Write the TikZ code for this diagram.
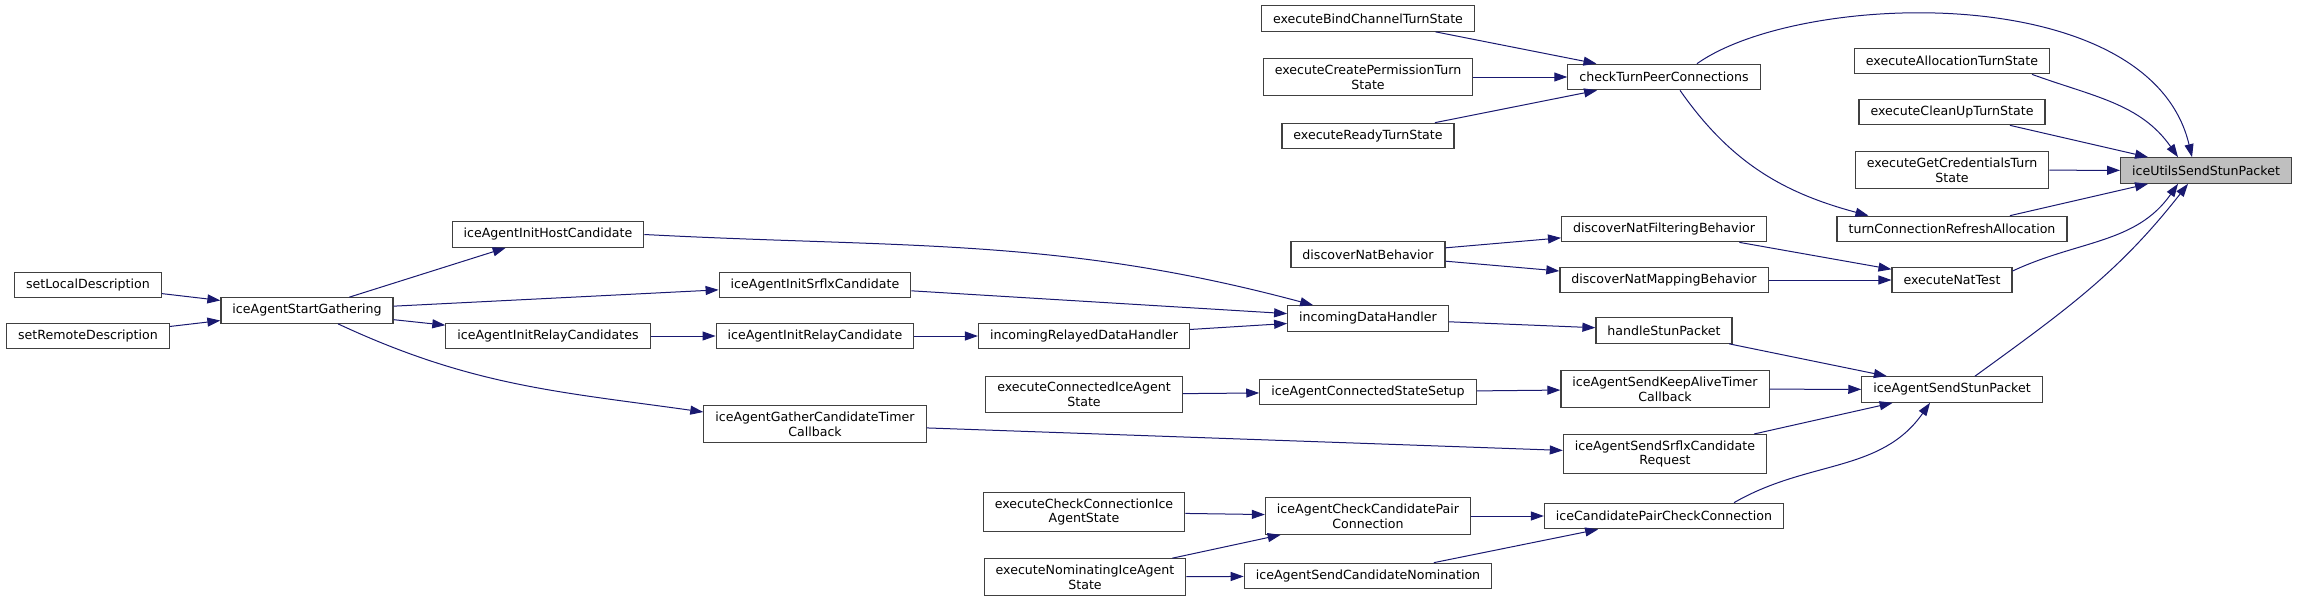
\documentclass[tikz,border=0pt]{standalone}
\usepackage{fontspec}
\setmainfont{DejaVu Sans}
\usepackage{tikz}
\usetikzlibrary{arrows.meta, positioning}
\definecolor{edgeblue}{HTML}{191970}
\definecolor{boxline}{HTML}{404040}
\definecolor{mainfill}{HTML}{BFBFBF}
\tikzstyle{fn} = [draw=boxline, line width=1.2pt, fill=white, inner xsep=11.5pt, inner ysep=6pt, minimum height=25.5pt, align=center]
\tikzstyle{call} = [edgeblue, line width=1pt, -{Triangle[length=13pt, width=9pt]}]

\begin{document}
\begin{tikzpicture}[x=1pt, y=1pt, font=\fontsize{12.6}{14.7}\selectfont]
    \useasboundingbox (0,0) rectangle (2299,-603);
    % functions, column by column
    \foreach \nm/\x/\y/\lbl in {
        setLocal/88/-285/setLocalDescription,
        setRemote/88/-336/setRemoteDescription,
        startGather/307/-310.5/iceAgentStartGathering,
        initHost/548/-234.5/iceAgentInitHostCandidate,
        initRelays/548/-336/iceAgentInitRelayCandidates,
        initSrflx/815/-285/iceAgentInitSrflxCandidate,
        initRelay/815/-336/iceAgentInitRelayCandidate,
        gatherTimer/815/-424/{iceAgentGatherCandidateTimer\\Callback},
        relayedHandler/1084/-336/incomingRelayedDataHandler,
        connectedState/1084/-394.5/{executeConnectedIceAgent\\State},
        checkConnState/1084/-512/{executeCheckConnectionIce\\AgentState},
        nominatingState/1085/-577/{executeNominatingIceAgent\\State},
        bindChannel/1368/-18.5/executeBindChannelTurnState,
        createPerm/1368/-77/{executeCreatePermissionTurn\\State},
        readyTurn/1368/-136/executeReadyTurnState,
        natBehavior/1368/-254.5/discoverNatBehavior,
        dataHandler/1368/-318.5/incomingDataHandler,
        connectedSetup/1368/-392/iceAgentConnectedStateSetup,
        checkPair/1368/-516/{iceAgentCheckCandidatePair\\Connection},
        sendNomination/1368/-576/iceAgentSendCandidateNomination,
        checkTurnPeer/1664/-77/checkTurnPeerConnections,
        natFiltering/1664/-229/discoverNatFilteringBehavior,
        natMapping/1664/-280/discoverNatMappingBehavior,
        handleStun/1664/-330.5/handleStunPacket,
        keepAlive/1665/-389/{iceAgentSendKeepAliveTimer\\Callback},
        srflxRequest/1665/-454/{iceAgentSendSrflxCandidate\\Request},
        pairCheck/1664/-516/iceCandidatePairCheckConnection,
        allocation/1952/-61/executeAllocationTurnState,
        cleanUp/1952/-112/executeCleanUpTurnState,
        getCreds/1952/-170/{executeGetCredentialsTurn\\State},
        refreshAlloc/1952/-229/turnConnectionRefreshAllocation,
        natTest/1952/-280/executeNatTest,
        agentSendStun/1952/-389.5/iceAgentSendStunPacket%
      }{
        \node[fn] (\nm) at (\x,\y) {\lbl};
      }
    \node[fn, fill=mainfill] (utilsSendStun) at (2206,-170.5) {iceUtilsSendStunPacket};

    % straight calls
    \foreach \a/\b in {
        setLocal/startGather, setRemote/startGather,
        startGather/initHost, startGather/initSrflx, startGather/initRelays,
        initRelays/initRelay, initRelay/relayedHandler,
        initSrflx/dataHandler, relayedHandler/dataHandler,
        gatherTimer/srflxRequest,
        natBehavior/natFiltering, natBehavior/natMapping,
        dataHandler/handleStun,
        connectedState/connectedSetup, connectedSetup/keepAlive,
        checkConnState/checkPair, nominatingState/checkPair, nominatingState/sendNomination,
        bindChannel/checkTurnPeer, createPerm/checkTurnPeer, readyTurn/checkTurnPeer,
        natFiltering/natTest, natMapping/natTest,
        handleStun/agentSendStun, keepAlive/agentSendStun, srflxRequest/agentSendStun,
        checkPair/pairCheck, sendNomination/pairCheck,
        cleanUp/utilsSendStun, getCreds/utilsSendStun, refreshAlloc/utilsSendStun%
      }{
        \draw[call] (\a) -- (\b);
      }

    % curved calls
    \draw[call] ([xshift=31pt]startGather.south) to[out=-25, in=172] ([yshift=12pt]gatherTimer.west);
    \draw[call] (initHost.east) to[out=-3, in=165] ([xshift=26pt]dataHandler.north west);
    \draw[call] ([xshift=16pt]checkTurnPeer.south) to[out=-55, in=165] ([xshift=32pt]refreshAlloc.north west);
    \draw[call] ([xshift=33pt]checkTurnPeer.north) .. controls +(103,73) and +(-42,178) .. ([xshift=-14pt]utilsSendStun.north);
    \draw[call] ([xshift=80pt]allocation.south) to[out=-20, in=125] ([xshift=-28pt]utilsSendStun.north);
    \draw[call] ([yshift=9pt]natTest.east) to[out=25, in=-125] ([xshift=-28pt]utilsSendStun.south);
    \draw[call] ([xshift=70pt]pairCheck.north) to[out=30, in=-125] ([xshift=-22pt]agentSendStun.south);
    \draw[call] ([xshift=23pt]agentSendStun.north) to[out=36, in=-128] ([xshift=-18pt]utilsSendStun.south);
\end{tikzpicture}
\end{document}
